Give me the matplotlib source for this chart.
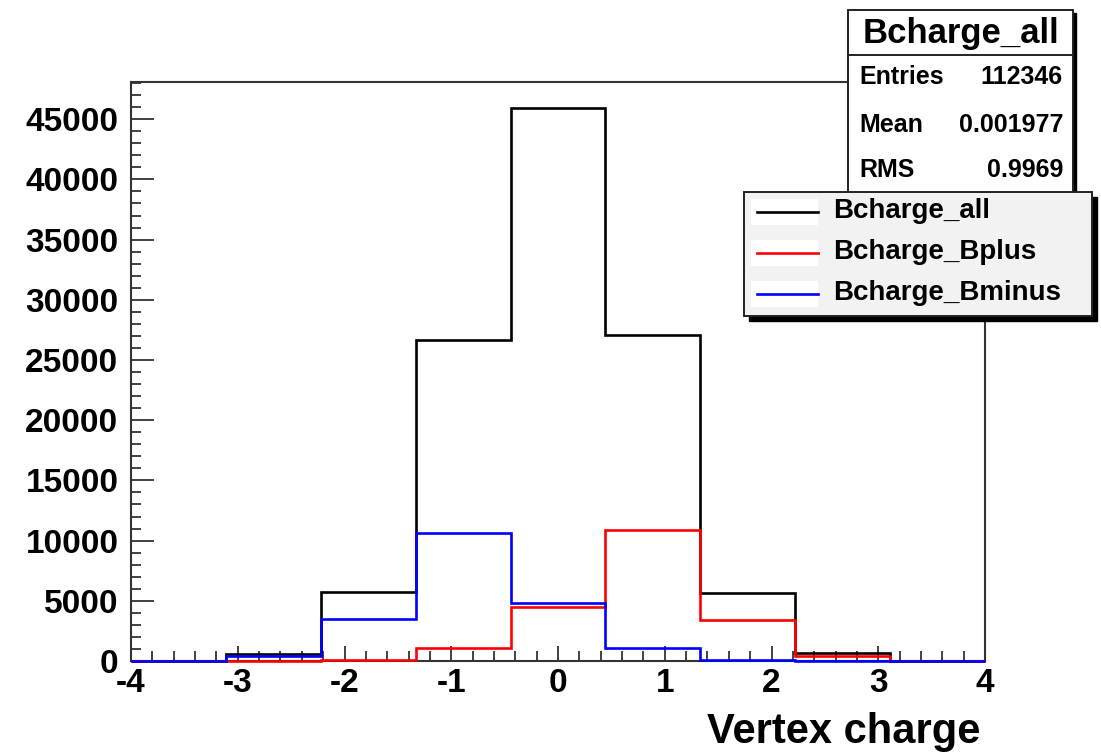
import matplotlib
matplotlib.use('Agg')
import matplotlib.pyplot as plt
from matplotlib.patches import Rectangle
from matplotlib.lines import Line2D
from matplotlib.ticker import MultipleLocator
import numpy as np

plt.rcParams['font.family'] = ['Liberation Sans', 'DejaVu Sans']
plt.rcParams['font.weight'] = 'bold'
plt.rcParams['axes.unicode_minus'] = False

# 9 bins from -4 to 4
edges = np.linspace(-4, 4, 10)
b_all = [40, 620, 5700, 26650, 45900, 27080, 5680, 640, 36]
b_plus = [0, 20, 100, 1050, 4510, 10880, 3400, 440, 0]
b_minus = [0, 440, 3460, 10630, 4840, 1050, 50, 0, 0]
series_names = ['Bcharge_all', 'Bcharge_Bplus', 'Bcharge_Bminus']
series_colors = ['black', '#ff0000', '#0000ff']
stats_labels = ['Entries', 'Mean', 'RMS']
stats_values = ['112346', '0.001977', '0.9969']

W, H = 1101, 755
fig = plt.figure(figsize=(W / 100, H / 100), dpi=100)
ax = fig.add_axes([131 / W, 1 - 661 / H, (985 - 131) / W, (661 - 82) / H])

for vals, col in zip([b_all, b_plus, b_minus], series_colors):
    ax.stairs(vals, edges, color=col, linewidth=1.9, zorder=3, clip_on=False)

ax.set_xlim(-4, 4)
ax.set_ylim(0, 48090)
ax.xaxis.set_major_locator(MultipleLocator(1))
ax.xaxis.set_minor_locator(MultipleLocator(0.2))
ax.yaxis.set_major_locator(MultipleLocator(5000))
ax.yaxis.set_minor_locator(MultipleLocator(1000))
ax.tick_params(axis='both', which='both', direction='in', colors='#333333',
               labelcolor='black', labelsize=24, top=False, right=False)
ax.tick_params(axis='x', which='major', length=11, width=1.3, pad=5)
ax.tick_params(axis='x', which='minor', length=7, width=1.3)
ax.tick_params(axis='y', which='major', length=16.5, width=1.3, pad=9)
ax.tick_params(axis='y', which='minor', length=7, width=1.3)
for s in ax.spines.values():
    s.set_color('#333333')
    s.set_linewidth(1.5)

fig.text(980 / W, 1 - 743 / H, 'Vertex charge', ha='right', va='baseline',
         fontsize=30, fontweight='bold')


def fx(px):
    return px / W


def fy(py):
    return 1 - py / H


def box(x0, y0, x1, y1, face, shadow):
    fig.patches.append(Rectangle((fx(x0 + shadow), fy(y1 + shadow)),
                                 (x1 - x0) / W, (y1 - y0) / H,
                                 transform=fig.transFigure, facecolor='black',
                                 edgecolor='black', zorder=5))
    fig.patches.append(Rectangle((fx(x0), fy(y1)), (x1 - x0) / W, (y1 - y0) / H,
                                 transform=fig.transFigure, facecolor=face,
                                 edgecolor='#222222', linewidth=1.4, zorder=6))


# statistics box
box(848, 10, 1073, 200, 'white', 3)
fig.lines.append(Line2D([fx(848), fx(1073)], [fy(55), fy(55)],
                        transform=fig.transFigure, color='#222222',
                        linewidth=1.4, zorder=7))
fig.text(fx(961), fy(33), 'Bcharge_all', ha='center', va='center',
         fontsize=25, fontweight='bold', zorder=8)
for lab, val, py in zip(stats_labels, stats_values, [77, 125, 170]):
    fig.text(fx(859), fy(py), lab, ha='left', va='center', fontsize=18,
             fontweight='bold', zorder=8)
    fig.text(fx(1063), fy(py), val, ha='right', va='center', fontsize=18,
             fontweight='bold', zorder=8)

# legend
box(744, 192, 1092, 316, '#f2f2f2', 5)
for name, col, py in zip(series_names, series_colors, [212, 253, 294]):
    fig.patches.append(Rectangle((fx(751), fy(py + 13)), 67 / W, 26 / H,
                                 transform=fig.transFigure, facecolor='white',
                                 edgecolor='none', zorder=7))
    fig.lines.append(Line2D([fx(757), fx(818)], [fy(py), fy(py)],
                            transform=fig.transFigure, color=col,
                            linewidth=1.9, zorder=8))
    fig.text(fx(833), fy(py - 1), name, ha='left', va='center', fontsize=20,
             fontweight='bold', zorder=8)

plt.savefig('out.png', dpi=100)
